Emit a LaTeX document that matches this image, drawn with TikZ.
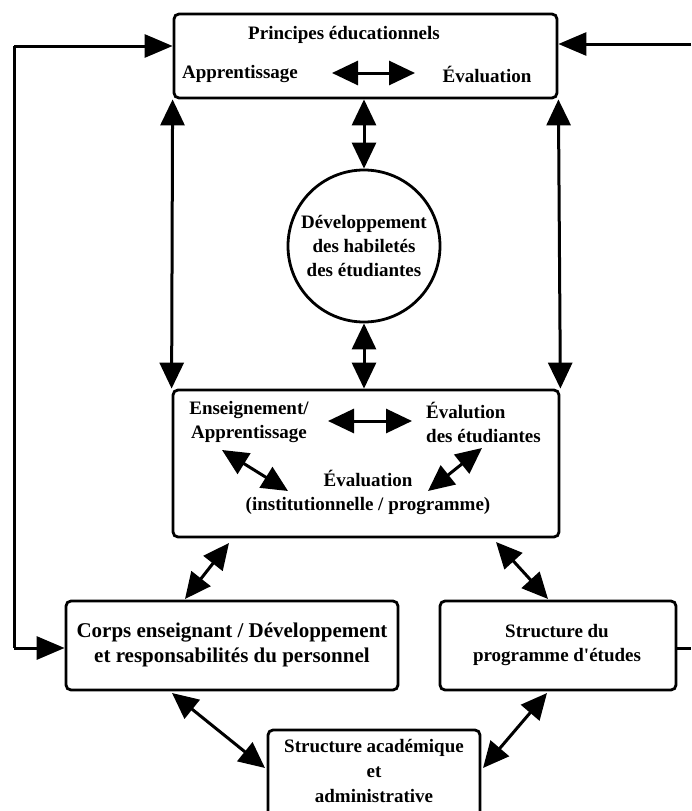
\documentclass[tikz,border=0pt]{standalone}
\usepackage{fontspec}
\setmainfont{Liberation Serif}[Ligatures=TeXOff]
\usetikzlibrary{arrows.meta,calc}
\begin{document}
\begin{tikzpicture}[x=1pt,y=-1pt,
  box/.style={draw,line width=2.8pt,rounded corners=5pt,inner sep=0pt},
  lbl/.style={font=\bfseries\fontsize{19}{24}\selectfont,inner sep=0pt,align=center},
  conn/.style={line width=3pt,{Triangle[length=26pt,width=24pt]}-{Triangle[length=26pt,width=24pt]}},
  one/.style={line width=3pt,-{Triangle[length=28pt,width=23pt]}}]
\useasboundingbox (0,0) rectangle (691,811);
% boxes
\node[box,minimum width=383pt,minimum height=84pt] (top) at (365.5,56) {};
\node[box,circle,minimum size=152pt] (circ) at (364,246) {};
\node[box,minimum width=386pt,minimum height=147pt] (mid) at (366,463.5) {};
\node[box,minimum width=332pt,minimum height=89pt] (corps) at (232,645.5) {};
\node[box,minimum width=236pt,minimum height=89pt] (struct) at (558,645.5) {};
\node[box,minimum width=212pt,minimum height=110pt] (acad) at (374,785) {};
% texts
\node[lbl] (t1) at (344,35) {Principes éducationnels};
\node[lbl] (t2) at (240,74) {Apprentissage};
\node[lbl] (t3) at (487,74) {Évaluation};
\node[lbl] (c1) at (364,246) {Développement\\des habiletés\\des étudiantes};
\node[lbl] (m1) at (249,422) {Enseignement/\\Apprentissage};
\node[lbl,align=left,anchor=west] (m2) at (426,422) {Évalution\\des étudiantes};
\node[lbl] (m3) at (368,492) {Évaluation\\(institutionnelle / programme)};
\node[lbl,font=\bfseries\fontsize{21}{25}\selectfont] (k1) at (232,645) {Corps enseignant / Développement\\et responsabilités du personnel};
\node[lbl] (s1) at (557,645) {Structure du\\programme d'études};
\node[lbl] (a1) at (374,771) {Structure académique\\[1pt]et\\[1pt]administrative};
% coordinates
\coordinate (lt) at (14,46);
\coordinate (lb) at (14,648);
\coordinate (rt) at (691,44);
\coordinate (rb) at (691,648);
% arrows inside top box
\draw[conn] (332,73) -- (415,73);
% verticals
\draw[conn] (top.south west) -- (mid.north west);
\draw[conn] (top.south east) -- (mid.north east);
\draw[conn] (top.south -| circ.north) -- (circ.north);
\draw[conn] (circ.south) -- (mid.north -| circ.south);
% middle box arrows
\draw[conn] (328,421) -- (412,421);
\draw[conn] (222,450) -- (288,491);
\draw[conn] (482,448) -- (428,491);
% mid to lower boxes
\draw[conn] (229,543) -- (185,599);
\draw[conn] (496,542) -- (548,599);
% lower to acad
\draw[conn] (172,693) -- (265,768);
\draw[conn] (547,693) -- (483,768);
% feedback lines
\draw[line width=3pt] (lb) -- (lt);
\draw[one] (lt) -- (lt -| top.west);
\draw[one] (lb) -- (lb -| corps.west);
\draw[one] (rt) -- (rt -| top.east);
\draw[line width=3pt] (rb -| struct.east) -- (rb);
\end{tikzpicture}
\end{document}
